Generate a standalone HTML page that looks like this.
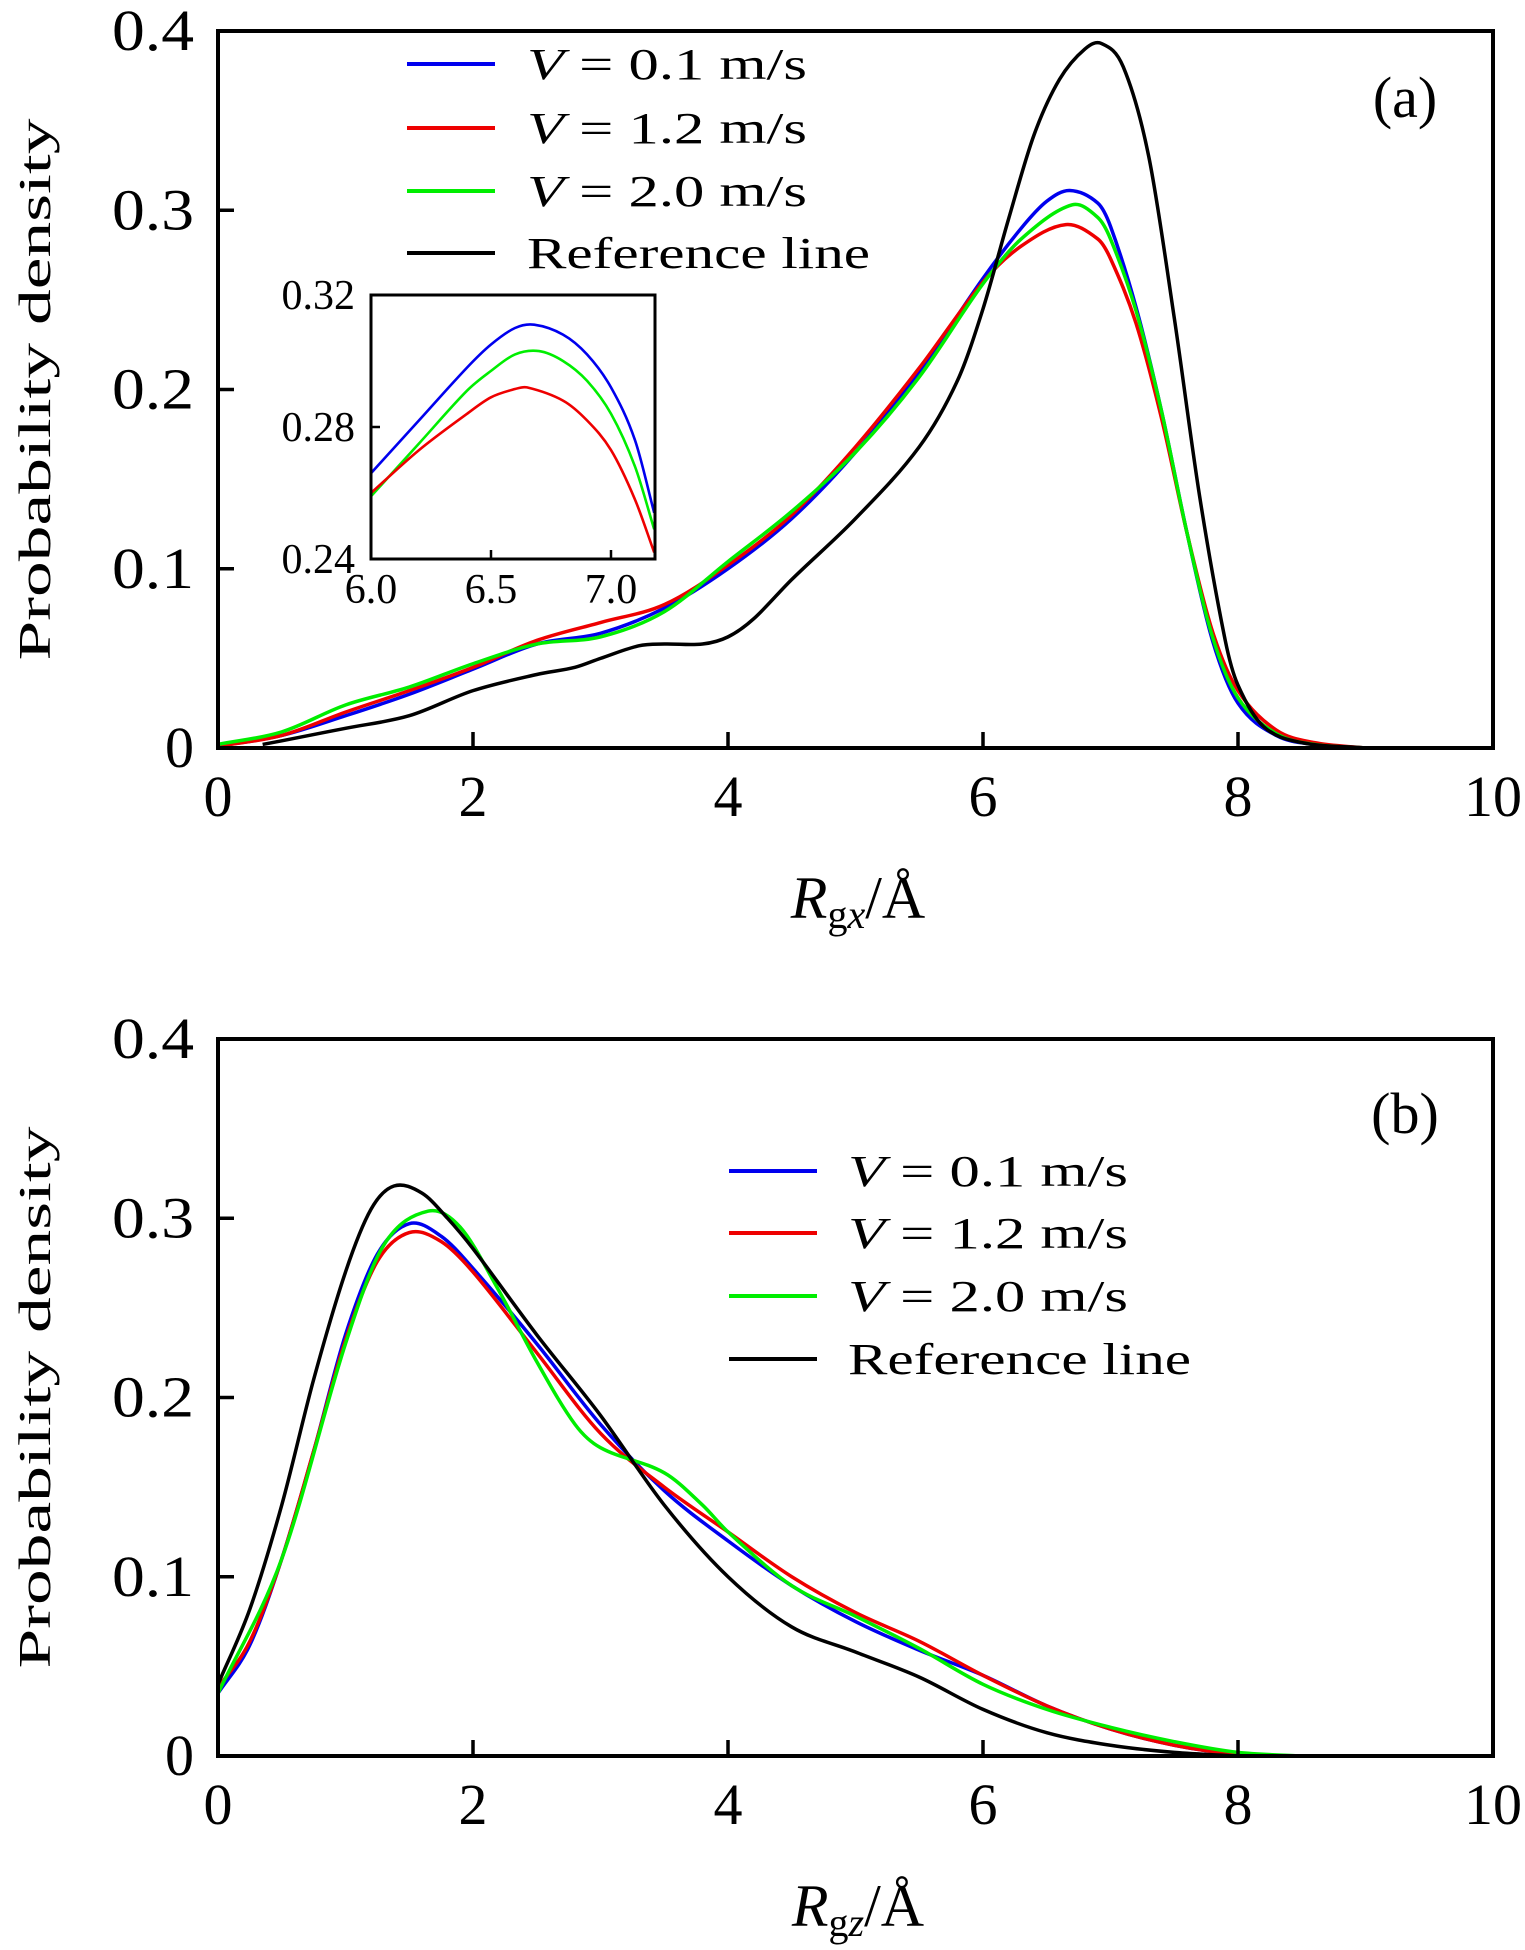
<!DOCTYPE html>
<html><head><meta charset="utf-8">
<style>
html,body{margin:0;padding:0;background:#fff;}
svg{display:block;}
text{font-family:"Liberation Serif","DejaVu Serif",serif;fill:#000;}
</style></head>
<body>
<svg id="chart" width="1525" height="1950" viewBox="0 0 1525 1950" xmlns="http://www.w3.org/2000/svg"></svg>
<script>
// ---- Panel (a) data: R_gx ----
const aBlueX = [0,0.5,1.0,1.5,2.0,2.5,3.0,3.5,4.0,4.5,5.0,5.5,6.0,6.3,6.5,6.68,6.9,7.0,7.2,7.4,7.6,7.8,8.0,8.3,8.6,9.0];
const aBlueY = [0.001,0.007,0.018,0.030,0.044,0.058,0.064,0.078,0.100,0.128,0.165,0.210,0.262,0.290,0.305,0.311,0.304,0.291,0.246,0.188,0.120,0.060,0.025,0.007,0.002,0];
const aRedX = [0,0.5,1.0,1.5,2.0,2.5,3.0,3.5,4.0,4.5,5.0,5.5,6.0,6.3,6.65,6.9,7.0,7.2,7.4,7.6,7.8,8.0,8.3,8.6,9.0];
const aRedY = [0.001,0.007,0.020,0.032,0.045,0.060,0.070,0.080,0.102,0.130,0.168,0.212,0.260,0.280,0.292,0.284,0.273,0.237,0.184,0.120,0.065,0.032,0.010,0.003,0];
const aGreenX = [0,0.5,1.0,1.5,2.0,2.5,3.0,3.5,4.0,4.5,5.0,5.5,6.0,6.3,6.7,6.9,7.0,7.2,7.4,7.6,7.8,8.0,8.3,8.6,9.0];
const aGreenY = [0.002,0.009,0.024,0.034,0.047,0.058,0.062,0.076,0.104,0.132,0.165,0.207,0.259,0.284,0.303,0.296,0.284,0.244,0.188,0.120,0.062,0.028,0.008,0.002,0];
const aRefX = [0.35,0.5,1.0,1.5,2.0,2.5,2.8,3.0,3.3,3.5,3.8,4.0,4.2,4.5,5.0,5.5,5.8,6.0,6.2,6.4,6.6,6.8,6.93,7.1,7.3,7.5,7.7,7.9,8.0,8.2,8.5,9.0];
const aRefY = [0.002,0.004,0.011,0.018,0.032,0.041,0.045,0.050,0.057,0.058,0.058,0.062,0.072,0.094,0.128,0.168,0.205,0.245,0.295,0.342,0.373,0.390,0.393,0.380,0.330,0.240,0.140,0.060,0.035,0.012,0.003,0];
// ---- Inset data ----
const inBlueX = [6.0,6.2,6.4,6.5,6.6,6.68,6.8,6.9,7.0,7.1,7.18];
const inBlueY = [0.266,0.282,0.298,0.305,0.310,0.311,0.308,0.302,0.292,0.276,0.254];
const inGreenX = [6.0,6.2,6.4,6.5,6.6,6.7,6.8,6.9,7.0,7.1,7.18];
const inGreenY = [0.259,0.275,0.291,0.297,0.302,0.303,0.300,0.294,0.284,0.268,0.249];
const inRedX = [6.0,6.2,6.4,6.5,6.6,6.65,6.8,6.9,7.0,7.1,7.18];
const inRedY = [0.260,0.273,0.284,0.289,0.2915,0.292,0.288,0.282,0.273,0.258,0.242];
// ---- Panel (b) data: R_gz ----
const bBlueX = [0,0.25,0.5,0.75,1.0,1.25,1.5,1.75,2.0,2.5,3.0,3.5,4.0,4.5,5.0,5.5,6.0,6.5,7.0,7.5,8.0,8.5];
const bBlueY = [0.035,0.062,0.110,0.170,0.235,0.280,0.297,0.290,0.272,0.230,0.185,0.148,0.120,0.095,0.075,0.059,0.045,0.028,0.015,0.006,0.001,0];
const bRedX = [0,0.25,0.5,0.75,1.0,1.25,1.5,1.75,2.0,2.5,3.0,3.5,4.0,4.5,5.0,5.5,6.0,6.5,7.0,7.5,8.0,8.5];
const bRedY = [0.038,0.064,0.110,0.170,0.232,0.276,0.292,0.287,0.270,0.225,0.180,0.150,0.125,0.100,0.080,0.064,0.045,0.028,0.015,0.006,0.001,0];
const bGreenX = [0,0.5,1.0,1.3,1.65,1.9,2.2,2.5,2.8,3.0,3.5,3.8,4.0,4.5,5.0,5.5,6.0,6.5,7.0,7.5,8.0,8.5];
const bGreenY = [0.035,0.110,0.230,0.285,0.304,0.295,0.260,0.220,0.185,0.172,0.158,0.140,0.125,0.095,0.078,0.060,0.040,0.026,0.016,0.008,0.002,0];
const bRefX = [0,0.25,0.5,0.75,1.0,1.2,1.38,1.6,1.8,2.0,2.5,3.0,3.5,4.0,4.5,5.0,5.5,6.0,6.5,7.0,7.5,8.0];
const bRefY = [0.040,0.082,0.140,0.210,0.270,0.305,0.318,0.314,0.300,0.283,0.235,0.190,0.140,0.100,0.072,0.058,0.044,0.026,0.013,0.006,0.002,0];
// ---- ticks ----
const xTicks = [0,2,4,6,8,10];
const yTicks = [0,0.1,0.2,0.3,0.4];
const yTickLabels = ["0","0.1","0.2","0.3","0.4"];
const inXTicks = [6.0,6.5,7.0];
const inXTickLabels = ["6.0","6.5","7.0"];
const inYTicks = [0.24,0.28,0.32];
const inYTickLabels = ["0.24","0.28","0.32"];
const legendLabels = ["V = 0.1 m/s","V = 1.2 m/s","V = 2.0 m/s","Reference line"];

const NS = "http://www.w3.org/2000/svg";
const svg = document.getElementById('chart');
function mk(tag, attrs, parent){const e=document.createElementNS(NS,tag);for(const k in attrs)e.setAttribute(k,attrs[k]);(parent||svg).appendChild(e);return e;}
function smooth(pts){
  const n=pts.length, m=[];
  for(let i=0;i<n;i++){
    if(i===0) m.push((pts[1][1]-pts[0][1])/(pts[1][0]-pts[0][0]));
    else if(i===n-1) m.push((pts[n-1][1]-pts[n-2][1])/(pts[n-1][0]-pts[n-2][0]));
    else m.push((pts[i+1][1]-pts[i-1][1])/(pts[i+1][0]-pts[i-1][0]));
  }
  let d='M'+pts[0][0].toFixed(2)+','+pts[0][1].toFixed(2);
  for(let i=0;i<n-1;i++){
    const h=(pts[i+1][0]-pts[i][0])/3;
    d+=' C'+(pts[i][0]+h).toFixed(2)+','+(pts[i][1]+m[i]*h).toFixed(2)+' '+(pts[i+1][0]-h).toFixed(2)+','+(pts[i+1][1]-m[i+1]*h).toFixed(2)+' '+pts[i+1][0].toFixed(2)+','+pts[i+1][1].toFixed(2);
  }
  return d;
}
const COLORS={blue:'#0000ee',red:'#ee0000',green:'#00ee00',ref:'#000000'};

function panel(key, top, bottom, series, xtitleSub, legend, tag){
  const L=218,R=1493;
  const sx=v=>L+(v-0)/10*(R-L);
  const sy=v=>bottom-(v/0.4)*(bottom-top);
  const g=mk('g',{});
  
  
  series.forEach(s=>{
    const pts=s.x.map((v,i)=>[sx(v),sy(s.y[i])]);
    const p=mk('path',{d:smooth(pts),fill:'none',stroke:COLORS[s.c],'stroke-width':3.5,'stroke-linejoin':'round'},g);
    
    
  });
  const fr=mk('rect',{x:L,y:top,width:R-L,height:bottom-top,fill:'none',stroke:'#000','stroke-width':4},g);
  
  
  xTicks.forEach(t=>{
    if(t>0&&t<10){const tk=mk('line',{x1:sx(t),x2:sx(t),y1:bottom,y2:bottom-16,stroke:'#000','stroke-width':3.5},g);
      
      }
    const tl=mk('text',{x:sx(t),y:bottom+68,'text-anchor':'middle','font-size':58},g);
    tl.textContent=String(t);
    
    
  });
  yTicks.forEach((t,i)=>{
    if(t>0&&t<0.4){const tk=mk('line',{x1:L,x2:L+16,y1:sy(t),y2:sy(t),stroke:'#000','stroke-width':3.5},g);
      
      }
    const tl=mk('text',{x:194,y:sy(t)+19,'text-anchor':'end','font-size':58},g);
    tl.textContent=yTickLabels[i];
    if(i>0){tl.setAttribute('textLength',82);tl.setAttribute('lengthAdjust','spacingAndGlyphs');}
    
    
  });
  const yt=mk('text',{x:0,y:0,'text-anchor':'middle','font-size':46,'font-family':'"DejaVu Serif",serif',transform:'translate(50,'+((top+bottom)/2)+') rotate(-90)',textLength:542,lengthAdjust:'spacingAndGlyphs'},g);
  yt.textContent='Probability density';
  
  
  const xt=mk('text',{x:858,y:bottom+170,'text-anchor':'middle','font-size':60},g);
  xt.innerHTML='<tspan font-style="italic">R</tspan><tspan font-size="40" dy="10">g</tspan><tspan font-size="40" font-style="italic">'+xtitleSub+'</tspan><tspan dy="-10">/Å</tspan>';
  
  
  const pt=mk('text',{x:1405,y:top+(key==='a'?86:94),'text-anchor':'middle','font-size':58},g);
  pt.textContent=tag;
  
  
  const cs=['blue','red','green','ref'];
  legend.rows.forEach((ry,i)=>{
    const lg=mk('g',{},g);
    
    
    mk('line',{x1:legend.x1,x2:legend.x2,y1:ry,y2:ry,stroke:COLORS[cs[i]],'stroke-width':4},lg);
    const t=mk('text',{x:legend.tx,y:ry+15,'font-size':44},lg);
    if(i<3){const parts=legendLabels[i].split(' ');t.innerHTML='<tspan font-style="italic">V</tspan> = '+parts[2]+'  m/s';t.setAttribute('textLength',280);}
    else{t.textContent=legendLabels[i];t.setAttribute('textLength',343);}
    t.setAttribute('lengthAdjust','spacingAndGlyphs');
  });
  return g;
}

panel('a',31,748,[
  {n:'v0-1',c:'blue',x:aBlueX,y:aBlueY},
  {n:'v1-2',c:'red',x:aRedX,y:aRedY},
  {n:'v2-0',c:'green',x:aGreenX,y:aGreenY},
  {n:'reference',c:'ref',x:aRefX,y:aRefY}],'x',{x1:407,x2:495,tx:527,rows:[64,128,191,253]},'(a)');
panel('b',1039,1756,[
  {n:'v0-1',c:'blue',x:bBlueX,y:bBlueY},
  {n:'v1-2',c:'red',x:bRedX,y:bRedY},
  {n:'v2-0',c:'green',x:bGreenX,y:bGreenY},
  {n:'reference',c:'ref',x:bRefX,y:bRefY}],'z',{x1:729,x2:817,tx:848,rows:[1171,1233,1296,1359]},'(b)');

(function(){
  const L=371,T=295,B=559,R=655;
  const ix=v=>L+(v-6.0)*240;
  const iy=v=>B-(v-0.24)/0.08*(B-T);
  const g=mk('g',{});
  
  
  mk('rect',{x:L,y:T,width:R-L,height:B-T,fill:'#fff'},g);
  const cp=mk('clipPath',{id:'inclip'},g);
  mk('rect',{x:L,y:T,width:R-L,height:B-T},cp);
  [['blue',inBlueX,inBlueY],['green',inGreenX,inGreenY],['red',inRedX,inRedY]].forEach(s=>{
    const p=mk('path',{d:smooth(s[1].map((v,i)=>[ix(v),iy(s[2][i])])),fill:'none',stroke:COLORS[s[0]],'stroke-width':2.6,'clip-path':'url(#inclip)'},g);
    
    
  });
  const fr=mk('rect',{x:L,y:T,width:R-L,height:B-T,fill:'none',stroke:'#000','stroke-width':3},g);
  
  
  inXTicks.forEach((t,i)=>{
    if(i>0) mk('line',{x1:ix(t),x2:ix(t),y1:B,y2:B-9,stroke:'#000','stroke-width':2.5},g);
    const tl=mk('text',{x:ix(t),y:B+44,'text-anchor':'middle','font-size':42},g);
    tl.textContent=inXTickLabels[i];
    
    
  });
  inYTicks.forEach((t,i)=>{
    if(i===1) mk('line',{x1:L,x2:L+9,y1:iy(t),y2:iy(t),stroke:'#000','stroke-width':2.5},g);
    const tl=mk('text',{x:L-16,y:iy(t)+14,'text-anchor':'end','font-size':42},g);
    tl.textContent=inYTickLabels[i];
    
    
  });
})();
</script>
</body></html>
